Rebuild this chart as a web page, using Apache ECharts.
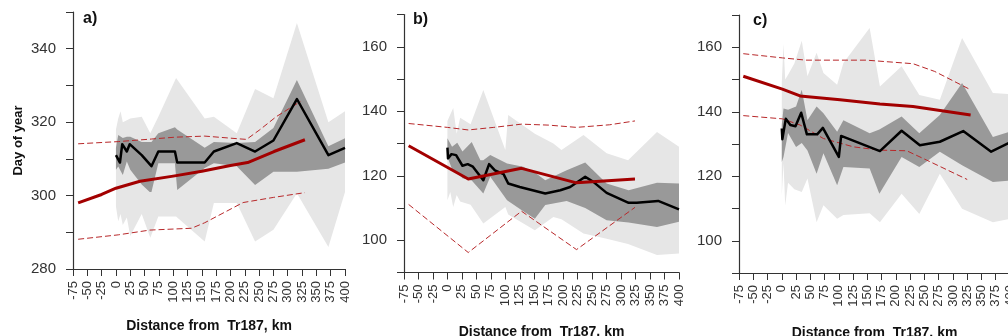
<!DOCTYPE html>
<html lang="en">
<head>
<meta charset="UTF-8">
<title>Day of year vs distance from Tr187</title>
<script src="https://cdn.jsdelivr.net/npm/echarts@6/dist/echarts.min.js"></script>
<style>
    html, body { margin: 0; padding: 0; background: #fff; }
    #chart { width: 1008px; height: 336px; }
</style>
</head>
<body>
<div id="chart"></div>
<script>
// x tick labels (km)
var xTicks = [-75, -50, -25, 0, 25, 50, 75, 100, 125, 150, 175, 200, 225, 250, 275, 300, 325, 350, 375, 400];

// ---- panel a) ----
var aMeanX = [0, 7, 11, 19, 24, 45, 62, 74, 103, 107, 155, 171, 211, 243, 275, 316, 371, 400];
var aMean  = [311, 309, 314, 312, 314, 311, 308, 312, 312, 309, 309, 312, 314.3, 312, 315, 326.3, 311, 313];
var aLightX  = [0, 4, 8, 12, 19, 25, 45, 60, 74, 105, 155, 171, 211, 243, 275, 316, 371, 400];
var aLightHi = [318, 321, 323, 320, 320.5, 321, 321.5, 317, 321.5, 332, 321, 321.5, 317, 329, 326.5, 347, 320, 323];
var aLightLo = [297, 293, 295, 292, 294, 289, 295, 288.5, 294.3, 294.3, 287.5, 298, 298, 287.5, 290.7, 300.6, 286, 301];
var aDarkX  = [0, 4, 12, 19, 25, 45, 59, 62, 74, 103, 107, 155, 171, 211, 243, 275, 316, 371, 400];
var aDarkHi = [313, 316.5, 315.7, 316, 316, 314.6, 314.6, 314.6, 317, 318.6, 318, 313, 314.6, 314.3, 314.6, 318.4, 331.5, 313.4, 315.6];
var aDarkLo = [307, 307.9, 305.6, 309.3, 307, 303, 301, 301, 308.8, 308.8, 301.5, 307.5, 308.8, 308, 302.9, 306.5, 306.5, 307.3, 309];
var aFitX = [-66, -25, 0, 42, 100, 150, 200, 230, 276, 330];
var aFit  = [298, 300.3, 302, 303.9, 305.3, 306.6, 308.2, 309, 312, 315.2];
var aHiX = [-66, 4, 62, 103, 155, 211, 228, 251, 280, 322];
var aHi  = [314.1, 314.7, 315.4, 315.9, 316.2, 315.5, 315.3, 317.9, 321.5, 325.6];
var aLoX = [-66, 4, 59, 132, 155, 222, 275, 330];
var aLo  = [288.1, 289.3, 290.6, 291.1, 292.6, 298.1, 299.5, 300.8];

// ---- panel b) ----
var bMeanX = [0, 1, 7, 15, 26, 35, 44, 53, 62, 72, 82, 97, 105, 125, 169, 195, 212, 238, 252, 275, 313, 327, 364, 400];
var bMean  = [128.7, 125.4, 126.7, 126.4, 123.1, 123.6, 122.8, 120.7, 118.6, 123.6, 121.7, 120.5, 117.6, 116.5, 114.5, 115.5, 116.5, 119.7, 118.1, 114.7, 111.6, 111.6, 112.2, 109.6];
var bLightX  = [0, 5, 10, 16, 22, 40, 62, 100, 105, 151, 183, 197, 235, 275, 312, 362, 400];
var bLightHi = [137, 139, 141, 133, 138, 136, 146.6, 128, 138.8, 133, 130, 128, 132.6, 127, 124.8, 133.6, 129];
var bLightLo = [112.4, 115, 110.3, 114, 112, 111, 105.2, 110.3, 108, 103.1, 107.2, 106.5, 102.1, 100.5, 98.8, 95.4, 95.9];
var bDarkX  = [0, 8, 17, 26, 42, 57, 62, 74, 103, 131, 151, 169, 206, 238, 275, 313, 362, 400];
var bDarkHi = [131.6, 129, 130.2, 127.5, 130.5, 124.8, 124.8, 126.4, 123.8, 122.8, 121, 118.6, 121.7, 124.1, 117.6, 115.5, 117.8, 117.6];
var bDarkLo = [125.9, 122, 121, 119.2, 118.5, 115.5, 114.5, 119.7, 112.4, 109, 106.7, 110.9, 112.2, 110, 106.2, 105.5, 104.1, 105.7];
var bFitX = [-67, 36, 128, 223, 324];
var bFit  = [129.3, 119, 122.3, 117.8, 119];
var bHiX = [-67, 0, 36, 80, 128, 175, 223, 280, 324];
var bHi  = [136.2, 135, 134.2, 135, 136, 135.7, 135, 135.8, 137];
var bLoX = [-67, 36, 128, 223, 324];
var bLo  = [111.1, 96.2, 109, 97.1, 110.2];

// ---- panel c) ----
var cMeanX = [0, 1, 7, 15, 24, 34, 44, 62, 72, 100, 104, 172, 210, 242, 277, 318, 367, 400];
var cMean  = [134.8, 131.5, 137.8, 135.9, 135.5, 139.7, 133, 133, 135, 126, 132.5, 127.8, 134.1, 129.6, 130.7, 134, 127.6, 130.5];
var cLightX  = [0, 3, 6, 11, 22, 35, 45, 61, 73, 97, 108, 154, 172, 210, 241, 277, 316, 370, 400];
var cLightHi = [149, 161, 150, 151.5, 155, 162, 151, 158.3, 152, 148.4, 155.1, 166, 147.8, 154.1, 145.2, 143.7, 162.9, 145.8, 145.5];
var cLightLo = [114, 124, 110.9, 118, 116, 115.1, 119.3, 105.7, 111, 106.8, 108, 108.5, 105.7, 114.6, 108.3, 120.8, 109.9, 105.7, 106.8];
var cDarkX  = [0, 3, 11, 25, 35, 45, 61, 73, 97, 108, 154, 171, 210, 241, 277, 316, 370, 400];
var cDarkHi = [136, 141, 140.6, 141.6, 146.8, 137.4, 141.6, 139.5, 133.8, 137.4, 133.3, 134.5, 138.5, 133.3, 139, 148.9, 132.2, 133.8];
var cDarkLo = [124.4, 126, 133.4, 129.1, 130.3, 128, 120.8, 127.1, 117.2, 122.9, 122.4, 114.6, 126, 122.9, 127.6, 123.4, 118.2, 118.7];
var cFitX = [-67.5, 1, 32, 102, 172, 230, 331];
var cFit  = [151, 147, 144.9, 143.7, 142.4, 141.6, 139];
var cHiX = [-67.5, 1, 42.5, 148, 230, 268, 329];
var cHi  = [158, 156.7, 156, 156, 154.9, 152.5, 147];
var cLoX = [-67.5, 1, 32, 73, 126, 172, 219, 254, 325];
var cLo  = [138.8, 137.8, 135.9, 131.7, 129.1, 128.1, 127.9, 125, 119];

var FONT = 'Liberation Sans, Arial, sans-serif';
var LIGHT = '#e6e6e6', DARK = '#999999', RED = '#a30000', DASH = '#b8282a';

function pairs(xs, ys) {
    return xs.map(function (x, i) { return [x, ys[i]]; });
}

// shaded band: one polygon (upper edge forward, lower edge back) through the axis scales
function band(k, xs, lo, hi, color) {
    return {
        type: 'custom', xAxisIndex: k, yAxisIndex: k, silent: true, animation: false, clip: true,
        data: xs.map(function (x, i) { return [x, lo[i], hi[i]]; }),
        renderItem: function (params, api) {
            if (params.dataIndex !== 0) return null;
            var n = params.dataInsideLength, top = [], bot = [];
            for (var i = 0; i < n; i++) {
                top.push(api.coord([api.value(0, i), api.value(2, i)]));
                bot.push(api.coord([api.value(0, i), api.value(1, i)]));
            }
            return {
                type: 'polygon',
                shape: { points: top.concat(bot.reverse()) },
                style: { fill: color, stroke: null }
            };
        }
    };
}

function line(k, xs, ys, color, width, dashed) {
    return {
        type: 'line', xAxisIndex: k, yAxisIndex: k, data: pairs(xs, ys),
        symbol: 'none', silent: true, animation: false,
        lineStyle: { color: color, width: width, type: dashed ? [6, 3] : 'solid', cap: 'butt', join: 'round' }
    };
}

// fixed plot boxes; no automatic shrinking to fit labels
var grids = [
    { left: 73, top: 12, width: 272, height: 257, outerBoundsMode: 'none', containLabel: false },
    { left: 404, top: 14.5, width: 275, height: 258, outerBoundsMode: 'none', containLabel: false },
    { left: 739, top: 15, width: 271, height: 258, outerBoundsMode: 'none', containLabel: false }
];
var yRange = [[280, 350], [90, 170], [90, 170]];

var xAxes = grids.map(function (g, k) {
    return {
        type: 'value', gridIndex: k, min: -75, max: 400, interval: 25,
        name: 'Distance from  Tr187, km', nameLocation: 'middle', nameGap: [50, 53, 53][k],
        nameMoveOverlap: false,
        nameTextStyle: { fontFamily: FONT, fontWeight: 'bold', fontSize: 14, color: '#111' },
        axisLine: { onZero: false, lineStyle: { color: '#333', width: 1.2 } },
        axisTick: { length: 7, lineStyle: { color: '#333' } },
        axisLabel: {
            rotate: 90, margin: 12, fontFamily: FONT, fontSize: 13, color: '#333', interval: 0,
            hideOverlap: false, showMinLabel: true, showMaxLabel: true,
            formatter: function (v) { return xTicks.indexOf(v) >= 0 ? String(v) : ''; }
        },
        splitLine: { show: false }
    };
});

var yAxes = grids.map(function (g, k) {
    return {
        type: 'value', gridIndex: k, min: yRange[k][0], max: yRange[k][1], interval: 10,
        name: k === 0 ? 'Day of year' : '', nameLocation: 'middle', nameGap: 48,
        nameMoveOverlap: false,
        nameTextStyle: { fontFamily: FONT, fontWeight: 'bold', fontSize: 13, color: '#111' },
        axisLine: { show: true, onZero: false, lineStyle: { color: '#333', width: 1.2 } },
        axisTick: { show: true, length: 7, lineStyle: { color: '#333' } },
        axisLabel: {
            margin: 17, fontFamily: FONT, fontSize: 15, color: '#333',
            formatter: function (v) { return v % 20 === 0 && v < yRange[k][1] ? String(v) : ''; }
        },
        splitLine: { show: false }
    };
});

var series = [
    band(0, aLightX, aLightLo, aLightHi, LIGHT),
    band(0, aDarkX, aDarkLo, aDarkHi, DARK),
    line(0, aHiX, aHi, DASH, 1, true), line(0, aLoX, aLo, DASH, 1, true),
    line(0, aMeanX, aMean, '#000', 2.5), line(0, aFitX, aFit, RED, 3),
    band(1, bLightX, bLightLo, bLightHi, LIGHT),
    band(1, bDarkX, bDarkLo, bDarkHi, DARK),
    line(1, bHiX, bHi, DASH, 1, true), line(1, bLoX, bLo, DASH, 1, true),
    line(1, bMeanX, bMean, '#000', 2.5), line(1, bFitX, bFit, RED, 3),
    band(2, cLightX, cLightLo, cLightHi, LIGHT),
    band(2, cDarkX, cDarkLo, cDarkHi, DARK),
    line(2, cHiX, cHi, DASH, 1, true), line(2, cLoX, cLo, DASH, 1, true),
    line(2, cMeanX, cMean, '#000', 2.5), line(2, cFitX, cFit, RED, 3)
];

var panelTitles = ['a)', 'b)', 'c)'];
var titlePos = [[83, 11], [413, 12], [753, 13]];

var chart = echarts.init(document.getElementById('chart'), null, { renderer: 'canvas' });
chart.setOption({
    animation: false,
    backgroundColor: '#fff',
    title: panelTitles.map(function (t, k) {
        return {
            text: t, left: titlePos[k][0], top: titlePos[k][1], padding: 0,
            textStyle: { fontFamily: FONT, fontWeight: 'bold', fontSize: 16, color: '#111' }
        };
    }),
    grid: grids,
    xAxis: xAxes,
    yAxis: yAxes,
    series: series
});
</script>
</body>
</html>
